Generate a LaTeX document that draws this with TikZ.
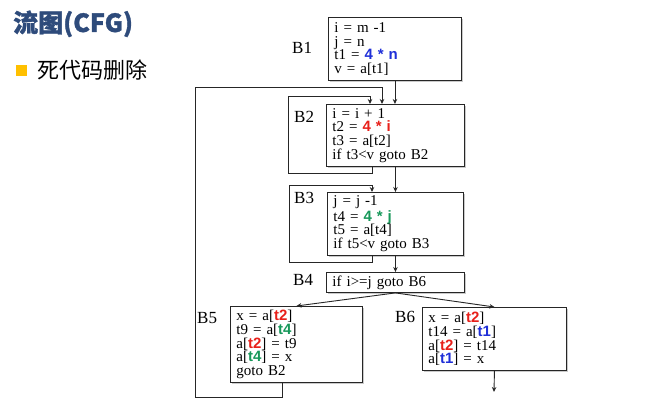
\documentclass[tikz,border=0pt]{standalone}
\usepackage{fontspec}
\setmainfont{Liberation Serif}
\newfontfamily\cjkfont{Noto Sans CJK SC}
\newfontfamily\cjktitle{Noto Sans CJK SC}[FakeBold=1.2]
\newfontfamily\hsans{Liberation Sans}
\usetikzlibrary{shadows,arrows.meta}
\definecolor{tblue}{HTML}{2E4B7B}
\definecolor{bul}{HTML}{FFC000}
\definecolor{cr}{HTML}{E8201A}
\definecolor{cb}{HTML}{1F2FD8}
\definecolor{cg}{HTML}{17985A}
\newcommand\cR[1]{{\hsans\bfseries\color{cr}#1}}
\newcommand\cB[1]{{\hsans\bfseries\color{cb}#1}}
\newcommand\cG[1]{{\hsans\bfseries\color{cg}#1}}
\tikzset{
  box/.style={draw=black!85, line width=0.9pt, fill=white, align=left,
    anchor=north west, inner xsep=6pt, inner ysep=2pt,
    font=\fontsize{15}{13.8}\selectfont,
    drop shadow={shadow xshift=1.5pt, shadow yshift=-1.5pt, opacity=0.35, fill=black!60}},
  blabel/.style={anchor=base west, inner sep=0pt, font=\fontsize{17}{17}\selectfont},
  arr/.style={draw=black!85, line width=0.9pt, -{Stealth[length=5pt,width=4.5pt]}},
  ln/.style={draw=black!85, line width=0.9pt}
}
\begin{document}
\begin{tikzpicture}[x=1pt,y=-1pt]
\useasboundingbox (0,0) rectangle (661,412);
% header
\node[anchor=base west, inner sep=0pt, text=tblue, font=\cjktitle\bfseries\fontsize{25}{25}\selectfont] (title) at (13,32) {流图(CFG)};
\node[fill=bul, minimum size=11pt, inner sep=0pt, anchor=north west] (bullet) at (16,65) {};
\node[anchor=base west, inner sep=0pt, font=\cjkfont\fontsize{22}{22}\selectfont] (sub) at (37,78) {死代码删除};
% blocks
\node[box, text width=121pt, minimum height=63pt] (b1) at (328,17)
  {i = m -1\\ j = n\\ t1 = \cB{4 * n}\\ v = a[t1]};
\node[box, text width=126pt, minimum height=62pt] (b2) at (326,104)
  {i = i + 1\\ t2 = \cR{4 * i}\\ t3 = a[t2]\\ if t3<v goto B2};
\node[box, text width=124pt, minimum height=63pt] (b3) at (327,192)
  {j = j -1\\ t4 = \cG{4 * j}\\ t5 = a[t4]\\ if t5<v goto B3};
\node[box, text width=126pt, minimum height=20pt] (b4) at (326,272)
  {if i>=j goto B6};
\node[box, text width=120pt, minimum height=76pt] (b5) at (230,306)
  {x = a[\cR{t2}]\\ t9 = a[\cG{t4}]\\ a[\cR{t2}] = t9\\ a[\cG{t4}] = x\\ goto B2};
\node[box, text width=132pt, minimum height=63pt] (b6) at (422,307)
  {x = a[\cR{t2}]\\ t14 = a[\cB{t1}]\\ a[\cR{t2}] = t14\\ a[\cB{t1}] = x};
% labels
\node[blabel] (l1) at (292,53) {B1};
\node[blabel] (l2) at (294,122) {B2};
\node[blabel] (l3) at (294,203) {B3};
\node[blabel] (l4) at (293,285) {B4};
\node[blabel] (l5) at (197,323) {B5};
\node[blabel] (l6) at (395,322) {B6};
% edges
\coordinate (exit) at (494,392);
\draw[arr] (b1.south) -- (b1.south |- b2.north);
\draw[arr] (b2.south) -- (b2.south |- b3.north);
\draw[arr] (b3.south) -- (b3.south |- b4.north);
\draw[arr] (b4.south) -- (b5.north);
\draw[arr] (b4.south) -- (b6.north);
\draw[arr] (b6.south) -- (exit);
% B2 self loop
\draw[arr] (b2.south -| 372,0) -- (372,173) -- (288,173) -- (288,96) -- (370,96) -- (b2.north -| 370,0);
% B3 self loop
\draw[arr] (b3.south -| 372,0) -- (372,262) -- (289,262) -- (289,185) -- (372,185) -- (b3.north -| 372,0);
% B5 -> B2
\draw[arr] (b5.south -| 282,0) -- (282,397) -- (195,397) -- (195,87) -- (382,87) -- (b2.north -| 382,0);
\end{tikzpicture}
\end{document}
